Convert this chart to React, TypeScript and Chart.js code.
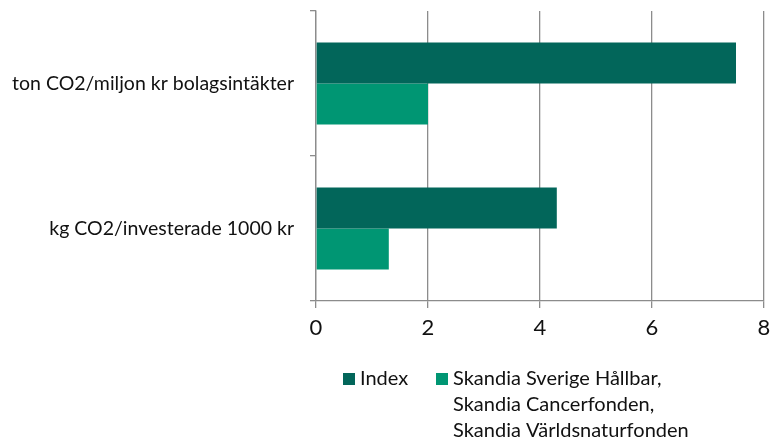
import React, { useEffect, useRef } from "react";
import { Chart, registerables } from "chart.js";

Chart.register(...registerables);

const categories = ["ton CO2/miljon kr bolagsintäkter", "kg CO2/investerade 1000 kr"];
const indexValues = [7.5, 4.3];
const skandiaValues = [2.0, 1.3];
const seriesNames = ["Index", "Skandia Sverige Hållbar,\nSkandia Cancerfonden,\nSkandia Världsnaturfonden"];
const seriesColors = ["#02665A", "#009673"];
const xTicks = [0, 2, 4, 6, 8];

const FONT = "Lato, 'Open Sans', sans-serif";

const legendPlugin = {
  id: "customLegend",
  afterDraw(chart: any) {
    const ctx = chart.ctx;
    const items = chart.data.datasets.map((d: any, i: number) => ({
      text: String(d.label).split("\n"),
      color: d.backgroundColor,
      x: [343, 436][i],
    }));
    ctx.save();
    ctx.font = `20px ${FONT}`;
    ctx.textBaseline = "middle";
    items.forEach((it: any) => {
      ctx.fillStyle = it.color;
      ctx.fillRect(it.x, 373, 12, 12);
      ctx.fillStyle = "#111";
      it.text.forEach((line: string, j: number) => {
        ctx.fillText(line, it.x + 17, 379 + j * 26);
      });
    });
    ctx.restore();
  },
};

export default function App() {
  const ref = useRef<HTMLCanvasElement>(null);
  useEffect(() => {
    document.body.style.margin = "0";
    const chart = new Chart(ref.current!, {
      type: "bar",
      data: {
        labels: categories,
        datasets: [
          { label: seriesNames[0], data: indexValues, backgroundColor: seriesColors[0] },
          { label: seriesNames[1], data: skandiaValues, backgroundColor: seriesColors[1] },
        ],
      },
      plugins: [legendPlugin],
      options: {
        indexAxis: "y",
        animation: false,
        responsive: false,
        maintainAspectRatio: false,
        layout: { padding: { left: 0, right: 7, top: 11, bottom: 0 } },
        datasets: { bar: { categoryPercentage: 0.567, barPercentage: 1 } },
        plugins: { legend: { display: false }, tooltip: { enabled: false } },
        scales: {
          x: {
            min: 0,
            max: 8,
            afterBuildTicks: (s: any) => {
              s.ticks = xTicks.map((v) => ({ value: v }));
            },
            afterFit: (s: any) => {
              s.height = 138;
              s.paddingLeft = 0;
              s.paddingRight = 0;
              s.paddingTop = 0;
              s.paddingBottom = 0;
            },
            grid: { color: "#8c8c8c", lineWidth: 1.3, tickLength: 7, drawTicks: true },
            border: { color: "#8c8c8c", width: 1.3 },
            ticks: { font: { family: FONT, size: 22 }, color: "#111", padding: 7 },
          },
          y: {
            afterFit: (s: any) => {
              s.width = 316;
              s.paddingLeft = 0;
              s.paddingRight = 0;
              s.paddingTop = 0;
              s.paddingBottom = 0;
            },
            grid: { offset: true, drawOnChartArea: false, color: "#8c8c8c", lineWidth: 1.3, tickLength: 6 },
            border: { color: "#8c8c8c", width: 1.3 },
            ticks: { font: { family: FONT, size: 19.5 }, color: "#111", padding: 16 },
          },
        },
      },
    });
    return () => chart.destroy();
  }, []);
  return <canvas ref={ref} width={771} height={439} style={{ display: "block" }} />;
}
